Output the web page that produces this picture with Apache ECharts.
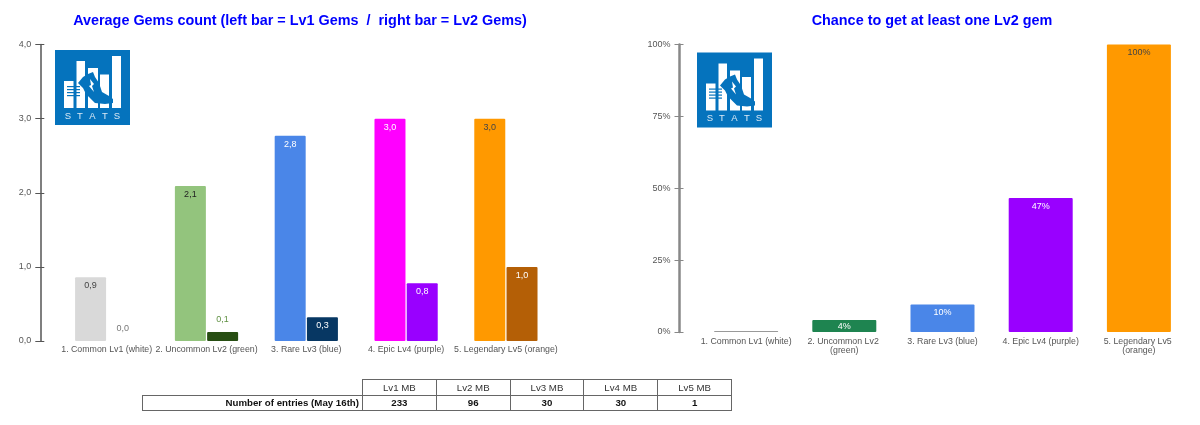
<!DOCTYPE html>
<html>
<head>
<meta charset="utf-8">
<style>
  html, body { margin: 0; padding: 0; background: #fff; }
  #chart { position: absolute; left: 0; top: 0; width: 1200px; height: 425px; }
  #entries { position: absolute; left: 142px; top: 379px; width: 589px; border-collapse: collapse; table-layout: fixed;
    font: 9.7px "Liberation Sans", Arial, sans-serif; color: #333; }
  #entries td { height: 15.5px; padding: 0; border: 1px solid #666; text-align: center; width: 73.8px; box-sizing: border-box; }
  #entries td.blank { border: none; border-bottom: 1px solid #666; }
  #entries td.head { width: 220px; text-align: right; padding-right: 3px; }
  #entries tr.num td { font-weight: bold; color: #111; }
</style>
<script src="https://cdn.jsdelivr.net/npm/echarts@6/dist/echarts.min.js"></script>
</head>
<body>
<div id="chart"></div>
<table id="entries"></table>
<script>
const gemCategories = ['1. Common Lv1 (white)', '2. Uncommon Lv2 (green)', '3. Rare Lv3 (blue)', '4. Epic Lv4 (purple)', '5. Legendary Lv5 (orange)']
const lv1Gems = [0.86, 2.09, 2.77, 3.0, 3.0]
const lv2Gems = [0, 0.12, 0.32, 0.78, 1.0]
const chanceLv2 = [0, 4.2, 9.6, 46.6, 100]

const tableHeaders = ['Lv1 MB', 'Lv2 MB', 'Lv3 MB', 'Lv4 MB', 'Lv5 MB']
const tableRowName = 'Number of entries (May 16th)'
const tableEntries = [233, 96, 30, 30, 1]

const lv1Colors = ['#d9d9d9', '#93c47d', '#4a86e8', '#ff00ff', '#ff9900']
const lv2Colors = ['#ffffff', '#274e13', '#073763', '#9900ff', '#b45f06']
const chanceColors = ['#999999', '#1e8450', '#4a86e8', '#9900ff', '#ff9900']
const lv1LabelColors = ['#444', '#222', '#fff', '#fff', '#444']
const lv2LabelColors = ['#777', '#5f9042', '#fff', '#fff', '#fff']
const chanceLabelColors = ['#444', '#fff', '#fff', '#fff', '#444']

const fontName = '"Liberation Sans", Arial, sans-serif'
const comma = v => v.toFixed(1).replace('.', ',')

function toBars(values, colors, labelColors, outsideBelow) {
  return values.map((v, i) => {
    const outside = v < outsideBelow
    return {
      value: v,
      itemStyle: { color: colors[i], borderRadius: 1 },
      label: {
        position: outside ? 'top' : 'insideTop',
        distance: outside ? 8 : 4,
        color: labelColors[i]
      }
    }
  })
}

const barLabel = fmt => ({
  show: true,
  fontFamily: fontName,
  fontSize: 9,
  formatter: p => fmt(p.value)
})

// two axes per grid: one draws the line, the other the ticks crossing it
function valueAxes(gridIndex, max, interval, fmt, lineOffset, tickOffset, lineColor, lineWidth) {
  return [
    {
      type: 'value', gridIndex, min: 0, max, interval, offset: tickOffset,
      axisLine: { show: false },
      axisTick: { show: true, length: 9, lineStyle: { color: lineColor, width: 1 } },
      axisLabel: { color: '#555', fontFamily: fontName, fontSize: 9, margin: 13, formatter: fmt },
      splitLine: { show: false }
    },
    {
      type: 'value', gridIndex, min: 0, max, interval, offset: lineOffset,
      position: 'left',
      axisLine: { show: true, lineStyle: { color: lineColor, width: lineWidth } },
      axisTick: { show: false },
      axisLabel: { show: false },
      splitLine: { show: false }
    }
  ]
}

function categoryAxis(gridIndex, margin, labelWidth) {
  return {
    type: 'category', gridIndex, data: gemCategories,
    axisLine: { show: false },
    axisTick: { show: false },
    axisLabel: {
      interval: 0, color: '#555', fontFamily: fontName, fontSize: 8.8, margin,
      width: labelWidth, overflow: 'break', lineHeight: 9
    }
  }
}

// logo is decoration, drawn in its own 75x75 box
function logo(x, y) {
  const blue = '#0573bd'
  const bar = (bx, by, w, h) => ({ type: 'rect', shape: { x: bx, y: by, width: w, height: h }, style: { fill: '#fff' } })
  const stripe = (by) => ({ type: 'rect', shape: { x: 12, y: by, width: 13, height: 1.2 }, style: { fill: blue } })
  const letter = (ch, lx) => ({ type: 'text', x: lx, y: 66, style: { text: ch, fill: '#dbe9f5', font: '9.5px ' + fontName, align: 'center', verticalAlign: 'middle' } })
  return {
    type: 'group', x, y,
    children: [
      { type: 'rect', shape: { x: 0, y: 0, width: 75, height: 75 }, style: { fill: blue } },
      bar(9, 31, 9.5, 27),
      bar(21.5, 11, 8.5, 47),
      bar(33, 18, 10, 40),
      bar(45, 24.5, 9, 33.5),
      bar(57, 6, 9, 52),
      { type: 'polygon', shape: { points: [[33, 24], [38, 22], [40, 27], [44, 33], [47, 42], [54, 46], [58, 49], [58, 53], [50, 54], [40, 53], [34, 47], [31, 44], [28, 38], [23, 33], [28, 27]] }, style: { fill: blue } },
      { type: 'polygon', shape: { points: [[35, 29], [39, 34], [37, 36], [39, 42], [34, 36], [36, 35]] }, style: { fill: '#fff' } },
      stripe(36), stripe(39), stripe(42), stripe(45),
      letter('S', 13), letter('T', 25), letter('A', 37.5), letter('T', 50), letter('S', 62)
    ]
  }
}

const option = {
  animation: false,
  backgroundColor: '#fff',
  title: [
    {
      text: 'Average Gems count (left bar = Lv1 Gems  /  right bar = Lv2 Gems)',
      left: 295, top: 9, textAlign: 'center',
      textStyle: { color: '#0000ff', fontFamily: fontName, fontSize: 14.4, fontWeight: 'bold' }
    },
    {
      text: 'Chance to get at least one Lv2 gem',
      left: 927, top: 9, textAlign: 'center',
      textStyle: { color: '#0000ff', fontFamily: fontName, fontSize: 14.4, fontWeight: 'bold' }
    }
  ],
  grid: [
    { left: 56.8, top: 44.5, width: 499, height: 296.5 },
    { left: 697, top: 44.5, width: 491, height: 287.5 }
  ],
  xAxis: [categoryAxis(0, 4, 110), categoryAxis(1, 5, 96)],
  yAxis: [
    ...valueAxes(0, 4, 1, comma, 16.5, 12.5, '#555', 1.5),
    ...valueAxes(1, 100, 25, v => v + '%', 18, 13.5, '#888', 2.5)
  ],
  series: [
    {
      name: 'Lv1 Gems', type: 'bar', xAxisIndex: 0, yAxisIndex: 0,
      barWidth: 31, barGap: '4%',
      label: barLabel(comma),
      data: toBars(lv1Gems, lv1Colors, lv1LabelColors, 0)
    },
    {
      name: 'Lv2 Gems', type: 'bar', xAxisIndex: 0, yAxisIndex: 0,
      barWidth: 31, barGap: '4%',
      label: barLabel(comma),
      data: toBars(lv2Gems, lv2Colors, lv2LabelColors, 0.2)
    },
    {
      name: 'Chance', type: 'bar', xAxisIndex: 1, yAxisIndex: 2,
      barWidth: 64, barMinHeight: 1,
      label: barLabel(v => Math.round(v) + '%'),
      data: toBars(chanceLv2, chanceColors, chanceLabelColors, 0).map((d, i) => {
        if (chanceLv2[i] === 0) return { ...d, label: { show: false } }
        // thin bar, label only just fits
        if (chanceLv2[i] < 5) return { ...d, label: { ...d.label, distance: 2 } }
        return d
      })
    }
  ],
  graphic: [logo(55, 50), logo(697, 52.5)]
}

const myChart = echarts.init(document.getElementById('chart'))
myChart.setOption(option)

// entries table under the charts
document.getElementById('entries').innerHTML =
  '<tr><td class="blank head"></td>' + tableHeaders.map(h => '<td>' + h + '</td>').join('') + '</tr>' +
  '<tr class="num"><td class="head">' + tableRowName + '</td>' + tableEntries.map(n => '<td>' + n + '</td>').join('') + '</tr>'
</script>
</body>
</html>
